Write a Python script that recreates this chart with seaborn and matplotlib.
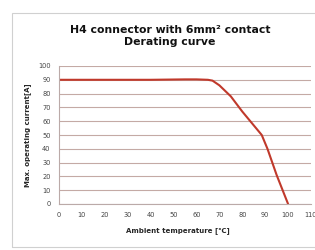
import numpy as np
import pandas as pd
import seaborn as sns
import matplotlib.pyplot as plt
from matplotlib.patches import Rectangle

# derating curve
temp = [0, 20, 40, 55, 60, 65, 67, 70, 75, 80, 85, 88.5, 91, 95, 100]
current = [90, 90, 90, 90.3, 90.3, 90, 89.4, 86, 78, 67, 57, 50, 40, 21, 0]
xticks = [0, 10, 20, 30, 40, 50, 60, 70, 80, 90, 100, 110]
yticks = [0, 10, 20, 30, 40, 50, 60, 70, 80, 90, 100]

df = pd.DataFrame({'temp': temp, 'current': current})

sns.set_theme(style='white')
plt.rcParams['font.family'] = ['DejaVu Sans']

fig = plt.figure(figsize=(3.15, 2.5), dpi=100)
fig.patches.append(Rectangle((12/315, 3/250), 1.0, 234/250, transform=fig.transFigure,
                             fill=False, edgecolor='#d0d0d0', linewidth=0.8))
ax = fig.add_axes([59/315, 46/250, 252/315, 138/250])

sns.lineplot(data=df, x='temp', y='current', ax=ax, color='#c0392b', linewidth=1.5)

ax.set_xlim(0, 110)
ax.set_ylim(0, 100)
ax.set_xticks(xticks)
ax.set_yticks(yticks)
ax.tick_params(labelsize=4.8, colors='#444444', length=0, pad=6)
ax.yaxis.grid(True, color='#c4aaa5', linewidth=0.8)
ax.set_axisbelow(True)
for s in ['top', 'right']:
    ax.spines[s].set_visible(False)
for s in ['left', 'bottom']:
    ax.spines[s].set_color('#bbaaa8')
    ax.spines[s].set_linewidth(0.8)

ax.set_xlabel('Ambient temperature [℃]', fontsize=5, fontweight='bold', labelpad=6)
ax.xaxis.set_label_coords(0.47, -0.17)
ax.set_ylabel('Max. operating current[A]', fontsize=5, fontweight='bold', labelpad=5)
fig.text(170/315, 1 - 36/250, 'H4 connector with 6mm² contact\nDerating curve',
         ha='center', va='center', fontsize=7.8, fontweight='bold', linespacing=1.3,
         color='#111111')

fig.savefig('out.png', dpi=100)
